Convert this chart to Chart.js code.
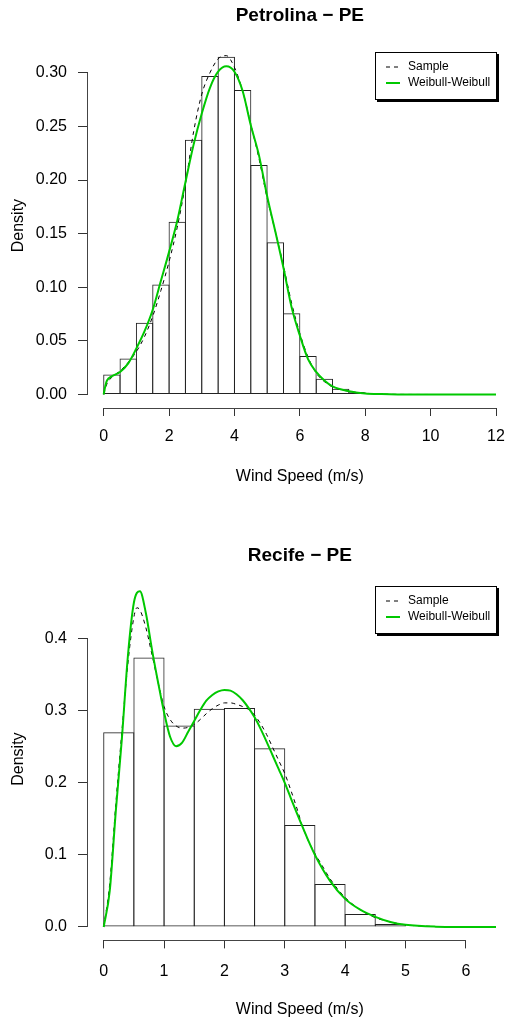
<!DOCTYPE html>
<html>
<head>
<meta charset="utf-8">
<script src="https://cdn.jsdelivr.net/npm/chart.js"></script>
<style>
  html, body { margin: 0; background: #fff; overflow: hidden; }
  canvas { position: absolute; left: 0; }
</style>
</head>
<body>
<canvas id="petrolina" width="512" height="512" style="top:0"></canvas>
<canvas id="recife" width="512" height="511" style="top:512px"></canvas>
<script>
// ---- Petrolina - PE ----
const petBinMids = [0.25, 0.75, 1.25, 1.75, 2.25, 2.75, 3.25, 3.75, 4.25, 4.75, 5.25, 5.75, 6.25, 6.75, 7.25, 7.75];
const petDensity = [0.0186, 0.0335, 0.067, 0.1025, 0.161, 0.2375, 0.297, 0.315, 0.284, 0.214, 0.142, 0.0757, 0.036, 0.0146, 0.0053, 0.002];

const petSampleX = [0, 0.1, 0.25, 0.5, 0.75, 1, 1.25, 1.5, 1.75, 2, 2.25, 2.5, 2.75, 3, 3.25, 3.5, 3.75, 4, 4.25, 4.5, 4.75, 5, 5.25, 5.5, 5.75, 6, 6.25, 6.5, 6.75, 7, 7.5, 8, 8.5, 9, 10];
const petSampleY = [0, 0.01, 0.016, 0.022, 0.03, 0.04, 0.054, 0.073, 0.097, 0.124, 0.156, 0.196, 0.245, 0.28, 0.3, 0.313, 0.316, 0.305, 0.283, 0.252, 0.22, 0.183, 0.152, 0.12, 0.085, 0.057, 0.035, 0.02, 0.012, 0.007, 0.003, 0.0012, 0.0004, 0.0001, 0];

const petWeibullX = [0, 0.05, 0.1, 0.25, 0.5, 0.75, 1, 1.25, 1.5, 1.75, 2, 2.25, 2.5, 2.75, 3, 3.25, 3.5, 3.75, 4, 4.25, 4.5, 4.75, 5, 5.25, 5.5, 5.75, 6, 6.25, 6.5, 6.75, 7, 7.5, 8, 8.5, 9, 10, 11, 12];
const petWeibullY = [0, 0.008, 0.013, 0.017, 0.021, 0.029, 0.043, 0.059, 0.079, 0.106, 0.133, 0.162, 0.198, 0.233, 0.262, 0.286, 0.301, 0.306, 0.301, 0.283, 0.251, 0.223, 0.185, 0.152, 0.118, 0.081, 0.055, 0.033, 0.021, 0.013, 0.0075, 0.003, 0.001, 0.0004, 0.0001, 0, 0, 0];

const petXTicks = [0, 2, 4, 6, 8, 10, 12];
const petYTicks = [0, 0.05, 0.10, 0.15, 0.20, 0.25, 0.30];

// ---- Recife - PE ----
const recBinMids = [0.25, 0.75, 1.25, 1.75, 2.25, 2.75, 3.25, 3.75, 4.25, 4.75];
const recDensity = [0.2704, 0.374, 0.2797, 0.303, 0.304, 0.248, 0.1415, 0.0597, 0.018, 0.0042];

const recSampleX = [0, 0.1, 0.2, 0.3, 0.4, 0.5, 0.55, 0.6, 0.7, 0.8, 0.9, 1.0, 1.1, 1.2, 1.3, 1.4, 1.5, 1.6, 1.7, 1.8, 1.9, 2.0, 2.1, 2.2, 2.3, 2.4, 2.5, 2.6, 2.7, 2.8, 2.9, 3.0, 3.1, 3.2, 3.3, 3.4, 3.5, 3.6, 3.75, 4.0, 4.25, 4.5, 4.75, 5.0, 5.5];
const recSampleY = [0, 0.06, 0.17, 0.27, 0.365, 0.43, 0.443, 0.44, 0.415, 0.378, 0.34, 0.306, 0.288, 0.279, 0.276, 0.277, 0.281, 0.288, 0.296, 0.303, 0.308, 0.311, 0.311, 0.309, 0.306, 0.302, 0.294, 0.282, 0.267, 0.249, 0.231, 0.213, 0.19, 0.165, 0.138, 0.118, 0.102, 0.088, 0.067, 0.041, 0.024, 0.013, 0.007, 0.003, 0.0005];

const recWeibullX = [0, 0.1, 0.2, 0.3, 0.4, 0.5, 0.6, 0.7, 0.8, 0.9, 1.0, 1.1, 1.2, 1.3, 1.4, 1.5, 1.6, 1.7, 1.8, 1.9, 2.0, 2.1, 2.2, 2.3, 2.4, 2.5, 2.6, 2.7, 2.8, 2.9, 3.0, 3.1, 3.2, 3.3, 3.4, 3.5, 3.75, 4.0, 4.25, 4.5, 4.75, 5.0, 5.5, 6.0, 6.5];
const recWeibullY = [0, 0.05, 0.16, 0.26, 0.375, 0.45, 0.466, 0.435, 0.385, 0.34, 0.298, 0.264, 0.251, 0.256, 0.271, 0.286, 0.301, 0.314, 0.322, 0.327, 0.329, 0.328, 0.323, 0.315, 0.304, 0.291, 0.275, 0.257, 0.238, 0.219, 0.2, 0.179, 0.158, 0.138, 0.118, 0.1, 0.064, 0.039, 0.024, 0.014, 0.007, 0.003, 0.0005, 0.0001, 0];

const recXTicks = [0, 1, 2, 3, 4, 5, 6];
const recYTicks = [0, 0.1, 0.2, 0.3, 0.4];

Chart.defaults.font.family = "'Liberation Sans', Arial, Helvetica, sans-serif";
Chart.defaults.color = '#000';

const pairs = (xs, ys) => xs.map((x, i) => ({ x: x, y: ys[i] }));

// R style axis lines: only between first and last tick
const axisLines = {
    id: 'axisLines',
    afterDraw(chart) {
        const { ctx, chartArea, scales: { x, y } } = chart;
        const xt = x.ticks, yt = y.ticks;
        ctx.save();
        ctx.strokeStyle = '#444';
        ctx.lineWidth = 1;
        ctx.beginPath();
        const by = Math.round(chartArea.bottom) + 0.5;
        ctx.moveTo(x.getPixelForValue(xt[0].value), by);
        ctx.lineTo(x.getPixelForValue(xt[xt.length - 1].value), by);
        const lx = Math.round(chartArea.left) - 0.5;
        ctx.moveTo(lx, y.getPixelForValue(yt[0].value));
        ctx.lineTo(lx, y.getPixelForValue(yt[yt.length - 1].value));
        ctx.stroke();
        ctx.restore();
    }
};

// boxed legend with shadow, top right
function boxLegend(top) {
    return {
        id: 'boxLegend',
        afterDraw(chart) {
            const ctx = chart.ctx;
            const left = 375, w = 122, h = 48;
            ctx.save();
            ctx.fillStyle = '#000';
            ctx.fillRect(left + 2, top + 2, w, h);
            ctx.fillStyle = '#fff';
            ctx.fillRect(left, top, w, h);
            ctx.strokeStyle = '#000';
            ctx.lineWidth = 1;
            ctx.strokeRect(left + 0.5, top + 0.5, w - 1, h - 1);
            ctx.font = "12px 'Liberation Sans', Arial, sans-serif";
            ctx.textBaseline = 'middle';
            const lines = chart.data.datasets.filter(ds => ds.type === 'line');
            lines.forEach((ds, i) => {
                const yy = top + 15 + i * 16;
                ctx.beginPath();
                ctx.strokeStyle = ds.borderColor;
                ctx.lineWidth = ds.borderWidth;
                ctx.setLineDash(ds.borderDash || []);
                ctx.moveTo(386, yy);
                ctx.lineTo(400, yy);
                ctx.stroke();
                ctx.setLineDash([]);
                ctx.fillStyle = '#000';
                ctx.fillText(ds.label, 408, yy);
            });
            ctx.restore();
        }
    };
}

function histChart(id, opt) {
    return new Chart(document.getElementById(id), {
        type: 'bar',
        data: {
            datasets: [
                {
                    type: 'line',
                    label: 'Sample',
                    data: pairs(opt.sx, opt.sy),
                    borderColor: '#000',
                    borderWidth: 1,
                    borderDash: [4, 4],
                    pointRadius: 0,
                    cubicInterpolationMode: 'monotone',
                    order: 2
                },
                {
                    type: 'line',
                    label: 'Weibull-Weibull',
                    data: pairs(opt.wx, opt.wy),
                    borderColor: '#00c800',
                    borderWidth: 2,
                    pointRadius: 0,
                    cubicInterpolationMode: 'monotone',
                    order: 1
                },
                {
                    type: 'bar',
                    label: 'hist',
                    data: pairs(opt.mids, opt.dens),
                    backgroundColor: 'rgba(0,0,0,0)',
                    borderColor: '#222',
                    borderSkipped: false,
                    borderWidth: 1,
                    // widen by 1px so neighbouring outlines overlap into a single line
                    barPercentage: opt.barPct,
                    categoryPercentage: 1,
                    order: 3
                }
            ]
        },
        options: {
            responsive: false,
            animation: false,
            events: [],
            layout: { padding: { left: 0, top: 0, bottom: 0, right: 0.3 } },
            plugins: {
                legend: { display: false },
                tooltip: { enabled: false },
                title: {
                    display: true,
                    fullSize: false,
                    text: opt.title,
                    color: '#000',
                    font: { size: 19, weight: 'bold' },
                    padding: opt.titlePad
                }
            },
            scales: {
                x: {
                    type: 'linear',
                    min: opt.xmin,
                    max: opt.xmax,
                    offset: false,
                    border: { display: false },
                    grid: { display: true, offset: false, drawOnChartArea: false, drawTicks: true, tickLength: 8, color: '#333' },
                    ticks: { autoSkip: false, maxRotation: 0, padding: opt.xTickPad, font: { size: 16 } },
                    afterBuildTicks: s => { s.ticks = opt.xticks.map(v => ({ value: v })); },
                    afterFit: s => { s.height = opt.xHeight; s.paddingLeft = 0; s.paddingRight = 0; },
                    title: { display: true, text: 'Wind Speed (m/s)', font: { size: 16 }, padding: { top: 0, bottom: opt.xTitlePad } }
                },
                y: {
                    type: 'linear',
                    min: opt.ymin,
                    max: opt.ymax,
                    border: { display: false },
                    grid: { display: true, drawOnChartArea: false, drawTicks: true, tickLength: 10, color: '#333' },
                    ticks: { autoSkip: false, padding: 11, font: { size: 16 }, callback: v => v.toFixed(opt.digits) },
                    afterBuildTicks: s => { s.ticks = opt.yticks.map(v => ({ value: v })); },
                    afterFit: s => { s.width = 88; s.paddingTop = 0; s.paddingBottom = 0; },
                    title: { display: true, text: 'Density', font: { size: 16 }, padding: { top: 9, bottom: 0 } }
                }
            }
        },
        plugins: [axisLines, boxLegend(opt.legendTop)]
    });
}

histChart('petrolina', {
    title: 'Petrolina \u2212 PE',
    mids: petBinMids, dens: petDensity,
    sx: petSampleX, sy: petSampleY,
    wx: petWeibullX, wy: petWeibullY,
    xticks: petXTicks, yticks: petYTicks, digits: 2,
    xmin: -0.48, xmax: 12.48, ymin: -0.0126, ymax: 0.3276,
    barPct: 1.061,
    titlePad: { top: 4, bottom: 16.4 },
    xHeight: 104, xTickPad: 11, xTitlePad: 25.5,
    legendTop: 52
});

histChart('recife', {
    title: 'Recife \u2212 PE',
    mids: recBinMids, dens: recDensity,
    sx: recSampleX, sy: recSampleY,
    wx: recWeibullX, wy: recWeibullY,
    xticks: recXTicks, yticks: recYTicks, digits: 1,
    xmin: -0.26, xmax: 6.76, ymin: -0.0186, ymax: 0.4846,
    barPct: 1.033,
    titlePad: { top: 32.5, bottom: 10.5 },
    xHeight: 82.6, xTickPad: 13.5, xTitlePad: 3.5,
    legendTop: 74
});
</script>
</body>
</html>
